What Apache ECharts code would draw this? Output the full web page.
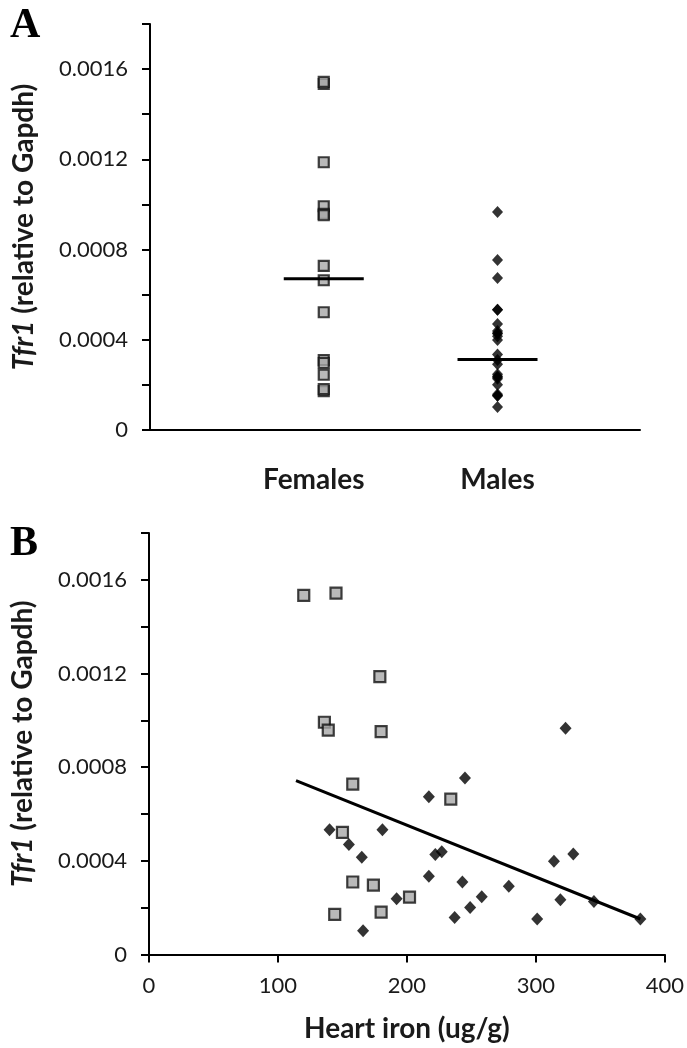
<!DOCTYPE html>
<html><head><meta charset="utf-8">
<script src="https://cdn.jsdelivr.net/npm/echarts@6/dist/echarts.min.js"></script>
<style>html,body{margin:0;padding:0;background:#fff}#c{width:687px;height:1048px}</style>
</head><body><div id="c"></div>
<script>
// ---- data ----
const categories = ['Females', 'Males'];
const femaleTfr1 = [0.001534, 0.001543, 0.001187, 0.000992, 0.000958, 0.000952, 0.000728, 0.000664, 0.000522, 0.000310, 0.000297, 0.000245, 0.000172, 0.000181];
const femaleIron = [120, 145, 179, 136, 139, 180, 158, 234, 150, 158, 174, 202, 144, 180];
const maleTfr1 = [0.000966, 0.000754, 0.000674, 0.000533, 0.000533, 0.000470, 0.000416, 0.000427, 0.000439, 0.000430, 0.000399, 0.000335, 0.000310, 0.000292, 0.000238, 0.000247, 0.000234, 0.000227, 0.000201, 0.000158, 0.000152, 0.000152, 0.000102];
const maleIron = [323, 245, 217, 140, 181, 155, 165, 222, 227, 329, 314, 217, 243, 279, 192, 258, 319, 345, 249, 237, 301, 381, 166];
const medianTfr1 = [0.000671, 0.000313];
const trendIron = [114, 381];
const trendTfr1 = [0.000743, 0.000152];
const yTickStep = 0.0002;
const yMax = 0.0018;
const xIronTicks = [0, 100, 200, 300, 400];

// ---- build ----
const FONT = 'Lato';
function yLabel(v) {
  const k = Math.round(v / yTickStep);
  if (k % 2 !== 0) return '';
  return v === 0 ? '0' : v.toFixed(4);
}
const yAxisBase = {
  type: 'value', min: 0, max: yMax, interval: yTickStep,
  name: '{i|Tfr1} (relative to Gapdh)', nameLocation: 'middle', nameGap: 112,
  nameTextStyle: { fontFamily: FONT, fontWeight: 'bold', fontSize: 28, color: '#1a1a1a',
    rich: { i: { fontFamily: FONT, fontStyle: 'italic', fontWeight: 'bold', fontSize: 28, color: '#1a1a1a' } } },
  axisLine: { show: true, lineStyle: { color: '#000', width: 2 } },
  axisTick: { show: true, inside: false, length: 8, lineStyle: { color: '#000', width: 2 } },
  axisLabel: { formatter: yLabel, fontFamily: FONT, fontSize: 22, color: '#1a1a1a', margin: 22 },
  splitLine: { show: false }
};
const squareStyle = { color: '#a8a8a8', borderColor: '#111', borderWidth: 2.2 };
const diamondStyle = { color: '#000' };
const catLabelStyle = { fontFamily: FONT, fontWeight: 'bold', fontSize: 28, color: '#1a1a1a' };

const option = {
  backgroundColor: '#fff',
  animation: false,
  title: [
    { text: 'A', left: 5, top: 0, textStyle: { fontFamily: 'Liberation Serif', fontWeight: 'bold', fontSize: 42, color: '#000' } },
    { text: 'B', left: 5, top: 518, textStyle: { fontFamily: 'Liberation Serif', fontWeight: 'bold', fontSize: 42, color: '#000' } }
  ],
  grid: [
    { left: 150, top: 24, width: 490, height: 406 },
    { left: 149, top: 533, width: 516, height: 421.6 }
  ],
  xAxis: [
    { gridIndex: 0, type: 'value', min: 0, max: 2.82, interval: 1,
      axisLine: { show: true, onZero: false, lineStyle: { color: '#000', width: 2 } },
      axisTick: { show: false }, splitLine: { show: false },
      axisLabel: { margin: 36, fontFamily: FONT, fontWeight: 'bold', fontSize: 28, color: '#1a1a1a',
        showMaxLabel: false, showMinLabel: false,
        rich: { f: Object.assign({ padding: [0, 20, 0, 0] }, catLabelStyle), m: Object.assign({}, catLabelStyle) },
        formatter: v => v === 1 ? '{f|' + categories[0] + '}' : (v === 2 ? '{m|' + categories[1] + '}' : '') } },
    { gridIndex: 1, type: 'value', min: xIronTicks[0], max: xIronTicks[xIronTicks.length - 1], interval: xIronTicks[1] - xIronTicks[0],
      name: 'Heart iron (ug/g)', nameLocation: 'middle', nameGap: 60,
      nameTextStyle: { fontFamily: FONT, fontWeight: 'bold', fontSize: 28, color: '#1a1a1a' },
      axisLine: { show: true, onZero: false, lineStyle: { color: '#000', width: 2 } },
      axisTick: { show: true, length: 8, lineStyle: { color: '#000', width: 2 } },
      splitLine: { show: false },
      axisLabel: { margin: 20, fontFamily: FONT, fontSize: 22, color: '#1a1a1a' } }
  ],
  yAxis: [
    Object.assign({}, yAxisBase, { gridIndex: 0 }),
    Object.assign({}, yAxisBase, { gridIndex: 1 })
  ],
  series: [
    { type: 'scatter', xAxisIndex: 0, yAxisIndex: 0, symbol: 'rect', symbolSize: 10,
      itemStyle: squareStyle, data: femaleTfr1.map(v => [1, v]) },
    { type: 'scatter', xAxisIndex: 0, yAxisIndex: 0, symbol: 'diamond', symbolSize: [11, 12],
      itemStyle: diamondStyle, data: maleTfr1.map(v => [2, v]) },
    { type: 'custom', xAxisIndex: 0, yAxisIndex: 0, silent: true, z: 5,
      data: medianTfr1.map((v, i) => [i + 1, v]),
      renderItem: function (params, api) {
        const p = api.coord([api.value(0), api.value(1)]);
        return { type: 'line', shape: { x1: p[0] - 40, y1: p[1], x2: p[0] + 40, y2: p[1] },
          style: { stroke: '#000', lineWidth: 3 } };
      } },
    { type: 'line', xAxisIndex: 1, yAxisIndex: 1, showSymbol: false, symbol: 'none', z: 1,
      lineStyle: { color: '#000', width: 3 },
      data: trendIron.map((x, i) => [x, trendTfr1[i]]) },
    { type: 'scatter', xAxisIndex: 1, yAxisIndex: 1, symbol: 'diamond', symbolSize: [12, 13],
      itemStyle: diamondStyle, data: maleIron.map((x, i) => [x, maleTfr1[i]]) },
    { type: 'scatter', xAxisIndex: 1, yAxisIndex: 1, symbol: 'rect', symbolSize: 11,
      itemStyle: squareStyle, data: femaleIron.map((x, i) => [x, femaleTfr1[i]]) }
  ]
};
const chart = echarts.init(document.getElementById('c'), null, { renderer: 'canvas' });
chart.setOption(option);
</script>
</body></html>
